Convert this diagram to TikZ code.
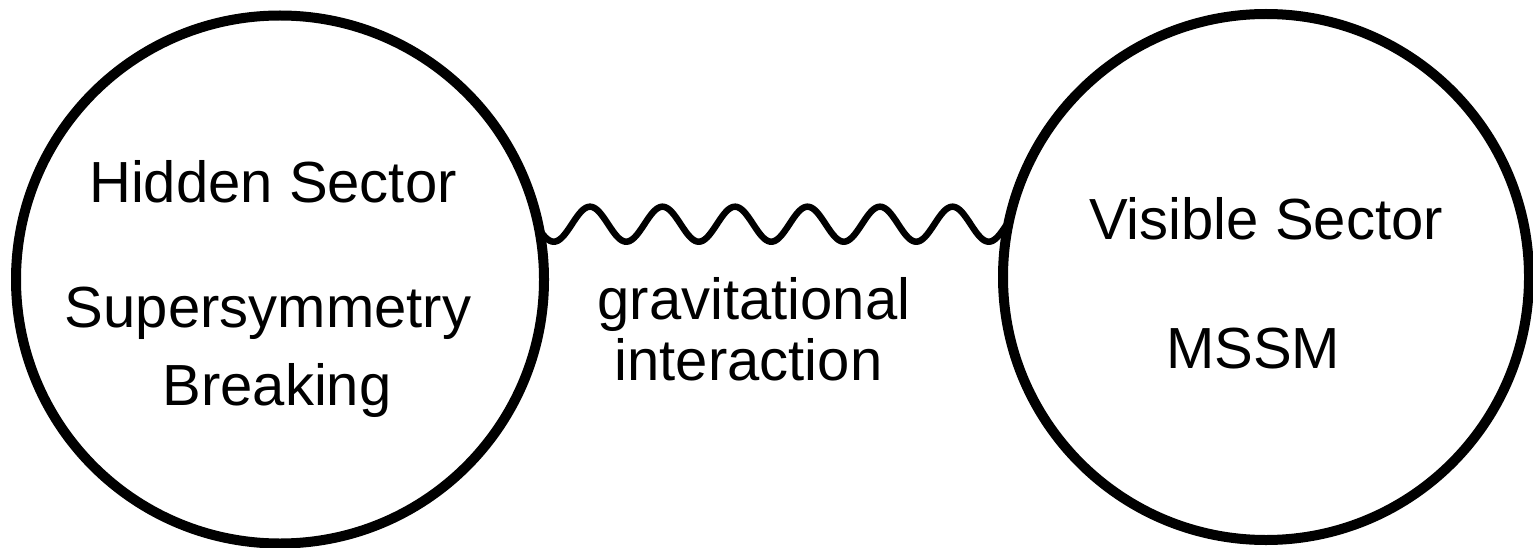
\documentclass[tikz,border=0pt]{standalone}
\usepackage{fontspec}
\setmainfont{Liberation Sans}
\begin{document}
\begin{tikzpicture}[x=1pt,y=-1pt,
  sector/.style={circle,draw=black,line width=10pt,inner sep=0pt,outer sep=0pt},
  label/.style={anchor=base,inner sep=0pt,outer sep=0pt,font=\fontsize{58}{60}\selectfont},
  wave/.style={draw=black,line width=6.5pt,line join=round}]
\useasboundingbox (0,0) rectangle (1533,548);
\node[sector,minimum size=528pt] (hidden) at (280,279.5) {};
\node[sector,minimum size=526pt] (visible) at (1266,277) {};
\node[label] (hs) at (273,202) {Hidden Sector};
\node[label] (susy) at (268,327) {Supersymmetry};
\node[label] (brk) at (277,405) {Breaking};
\node[label] (grav) at (754,319) {gravitational};
\node[label] (inter) at (748.5,380) {interaction};
\node[label] (vs) at (1266,239) {Visible Sector};
\node[label] (mssm) at (1253,368) {MSSM};
\draw[wave] (hidden.10) -- plot[domain=541:1006,samples=300,smooth] (\x,{224.2-17.5*cos(4.96552*(\x-590))}) -- (visible.169);
\end{tikzpicture}
\end{document}
